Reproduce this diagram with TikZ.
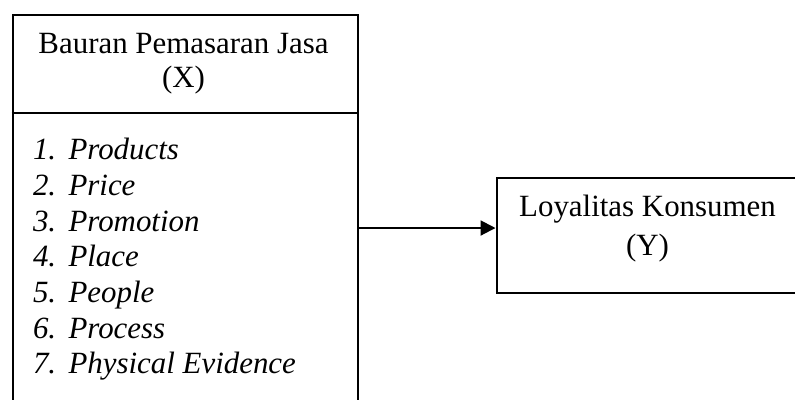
\documentclass[tikz,border=0pt]{standalone}
\usepackage{fontspec}
\setmainfont{Liberation Serif}
\usetikzlibrary{arrows.meta}
\begin{document}
\begin{tikzpicture}[x=0.3883pt,y=-0.3883pt,
  boxline/.style={line width=0.78pt},
  txt/.style={font=\fontsize{12}{14}\selectfont, inner sep=0pt},
  item/.style={txt, anchor=base west, font=\fontsize{12}{14}\selectfont\itshape}]
\clip (0,0) rectangle (795,399);
\fill[white] (0,0) rectangle (795,399);
% left box (extends below the picture)
\node[boxline, draw, rectangle, inner sep=0pt, anchor=north west,
      minimum width=345*0.3883pt, minimum height=420*0.3883pt] (X) at (11.5,13.5) {};
\coordinate (div) at (0,112.5);
\draw[boxline] (X.west |- div) -- (X.east |- div);
\node[txt, anchor=base] (xt1) at (183.5,53.3) {Bauran Pemasaran Jasa};
\node[txt, anchor=base] (xt2) at (183.5,87.5) {(X)};
% list
\node[item] (n1) at (32.5,159.5) {1.};
\node[item] (w1) at (68,159.5) {Products};
\node[item] (n2) at (32.5,195) {2.};
\node[item] (w2) at (68,195) {Price};
\node[item] (n3) at (32.5,231) {3.};
\node[item] (w3) at (68,231) {Promotion};
\node[item] (n4) at (32.5,266.5) {4.};
\node[item] (w4) at (68,266.5) {Place};
\node[item] (n5) at (32.5,302) {5.};
\node[item] (w5) at (68,302) {People};
\node[item] (n6) at (32.5,338) {6.};
\node[item] (w6) at (68,338) {Process};
\node[item] (n7) at (32.5,373.5) {7.};
\node[item] (w7) at (68,373.5) {Physical Evidence};
% right box (extends past the right edge)
\node[boxline, draw, rectangle, inner sep=0pt, anchor=north west,
      minimum width=312*0.3883pt, minimum height=115*0.3883pt] (Y) at (495.5,176.5) {};
\node[txt, anchor=base] (yt1) at (647.5,216.7) {Loyalitas Konsumen};
\node[txt, anchor=base] (yt2) at (647.5,255) {(Y)};
% arrow
\coordinate (ay) at (0,228);
\draw[boxline, -{Triangle[length=5.8pt,width=5.8pt]}] (X.east |- ay) -- (Y.west |- ay);
\end{tikzpicture}
\end{document}
